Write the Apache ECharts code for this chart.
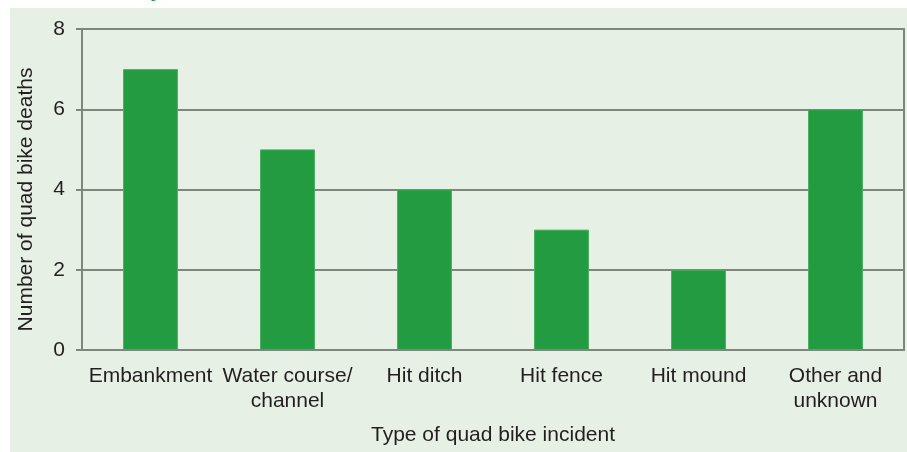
<!DOCTYPE html>
<html>
<head>
<meta charset="utf-8">
<script src="https://cdn.jsdelivr.net/npm/echarts@6/dist/echarts.min.js"></script>
<style>
  html, body { margin: 0; padding: 0; background: #fff; overflow: hidden; }
  #panel { position: absolute; left: 10px; top: 8px; width: 897px; height: 444px; background: #e6f0e4; }
  #chart { position: absolute; left: 0; top: 0; width: 907px; height: 452px; }
</style>
</head>
<body>
<div id="panel"></div>
<div id="chart"></div>
<script>
// data
const categories = ['Embankment', 'Water course/\nchannel', 'Hit ditch', 'Hit fence', 'Hit mound', 'Other and\nunknown'];
const deaths = [7, 5, 4, 3, 2, 6];
const yTicks = [0, 2, 4, 6, 8];

const gridColor = '#7f857f';
const textColor = '#231f20';
const font = 'Liberation Sans, Arial, sans-serif';

const myChart = echarts.init(document.getElementById('chart'));
const option = {
  backgroundColor: 'transparent',
  textStyle: { fontFamily: font },
  graphic: [{
    // top of the page title, cut off in the reference
    type: 'text',
    left: 46,
    top: -19,
    style: { text: 'Fatalities by incident location, 2011–2015', fill: '#22a03c', font: 'bold 20px ' + font }
  }],
  grid: {
    left: 82, right: 3, top: 29, bottom: 102,
    outerBoundsMode: 'none',
    show: true, borderColor: gridColor, borderWidth: 2, backgroundColor: 'transparent'
  },
  xAxis: {
    type: 'category',
    data: categories,
    name: 'Type of quad bike incident',
    nameLocation: 'middle',
    nameGap: 75,
    nameTextStyle: { color: textColor, fontSize: 21 },
    axisLine: { lineStyle: { color: gridColor, width: 2 } },
    axisTick: { show: false },
    axisLabel: { color: textColor, fontSize: 21, lineHeight: 25, margin: 14, interval: 0 }
  },
  yAxis: {
    type: 'value',
    min: yTicks[0],
    max: yTicks[yTicks.length - 1],
    interval: 2,
    name: 'Number of quad bike deaths',
    nameLocation: 'middle',
    nameGap: 45,
    nameTextStyle: { color: textColor, fontSize: 21, padding: [0, 20, 0, 0] },
    axisLine: { show: true, lineStyle: { color: gridColor, width: 2 } },
    axisTick: { show: true, length: 6, lineStyle: { color: gridColor, width: 2 } },
    axisLabel: { color: textColor, fontSize: 21, margin: 17 },
    splitLine: { lineStyle: { color: gridColor, width: 2 } }
  },
  series: [{
    type: 'bar',
    data: deaths,
    barWidth: '40%',
    itemStyle: { color: '#239b41', borderColor: '#45ad5c', borderWidth: 1 },
    silent: true
  }]
};
option && myChart.setOption(option);
</script>
</body>
</html>
